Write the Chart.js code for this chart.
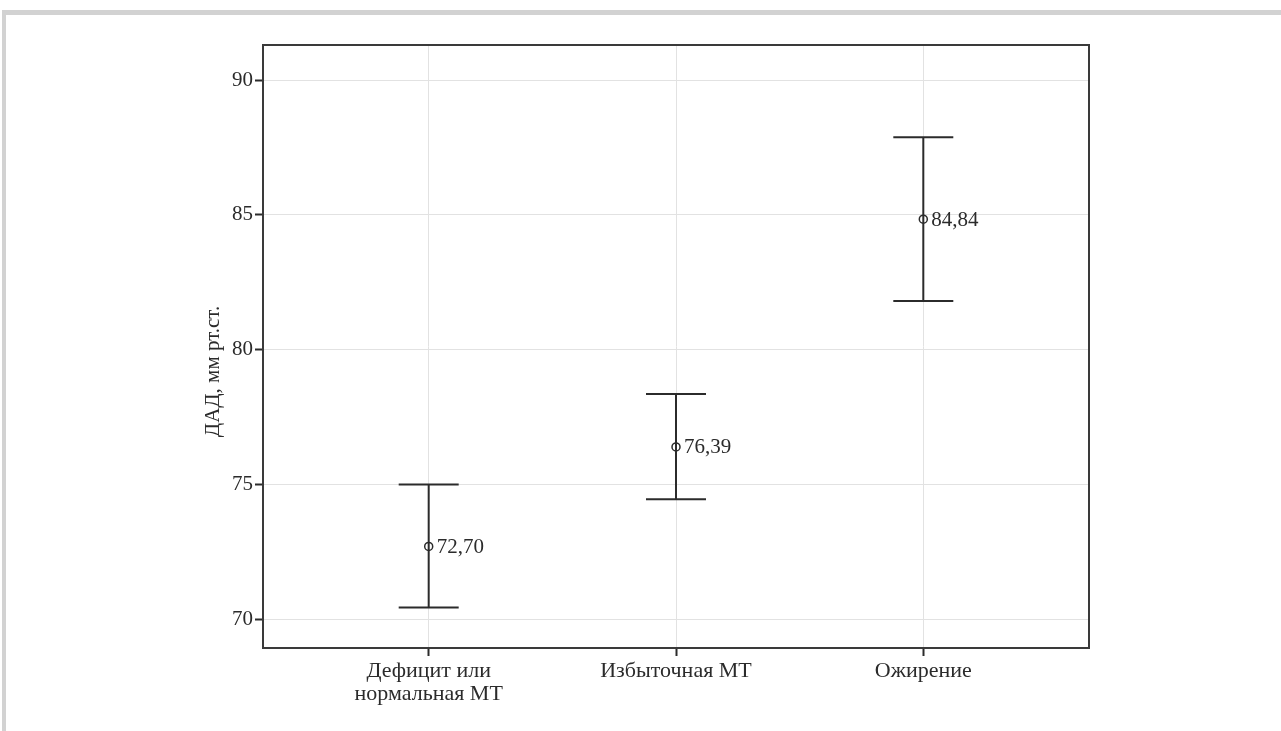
<!DOCTYPE html>
<html>
<head>
<meta charset="utf-8">
<script src="https://cdn.jsdelivr.net/npm/chart.js@4.4.1/dist/chart.umd.min.js"></script>
<style>
  html, body { margin: 0; padding: 0; background: #fff; }
  #frame { position: absolute; left: 2px; top: 10px; right: 0; bottom: 0;
           border-top: 5px solid #d2d2d2; border-left: 4px solid #d2d2d2; }
  #myChart { position: absolute; left: 0; top: 0; }
</style>
</head>
<body>
<div id="frame"></div>
<canvas id="myChart" width="1281" height="731"></canvas>
<script>
const categories = [["Дефицит или", "нормальная МТ"], "Избыточная МТ", "Ожирение"];
const means = [72.70, 76.39, 84.84];
const lower = [70.43, 74.45, 81.80];
const upper = [75.00, 78.35, 87.88];
const meanLabels = ["72,70", "76,39", "84,84"];
const yTicks = [70, 75, 80, 85, 90];
const yTitle = "ДАД, мм рт.ст.";

const ink = "#2b2b2b";
const font = "'Liberation Serif', 'DejaVu Serif', serif";

// vertical stems, broken by nulls between groups
const stems = [];
means.forEach((m, i) => {
  stems.push({x: i, y: lower[i]}, {x: i, y: upper[i]}, {x: i, y: null});
});
const caps = [];
means.forEach((m, i) => {
  caps.push({x: i, y: lower[i]}, {x: i, y: upper[i]});
});

const boxPlugin = {
  id: 'box',
  afterDraw(chart) {
    const a = chart.chartArea, ctx = chart.ctx;
    ctx.save();
    ctx.strokeStyle = "#3a3a3a";
    ctx.lineWidth = 2;
    ctx.strokeRect(a.left, a.top, a.right - a.left, a.bottom - a.top);
    // y axis title, sits a bit below the middle like in the source
    ctx.translate(a.left - 50, (a.top + a.bottom) / 2 + 25);
    ctx.rotate(-Math.PI / 2);
    ctx.fillStyle = ink;
    ctx.font = "21px " + font;
    ctx.textAlign = "center";
    ctx.textBaseline = "middle";
    ctx.fillText(yTitle, 0, 0);
    ctx.restore();
  }
};

const labelPlugin = {
  id: 'meanLabels',
  afterDatasetsDraw(chart) {
    const ctx = chart.ctx;
    const xs = chart.scales.x, ys = chart.scales.y;
    ctx.save();
    ctx.fillStyle = ink;
    ctx.font = "21px " + font;
    ctx.textBaseline = "middle";
    means.forEach((m, i) => {
      ctx.fillText(meanLabels[i], xs.getPixelForValue(i) + 8, ys.getPixelForValue(m) + 1);
    });
    ctx.restore();
  }
};

new Chart(document.getElementById("myChart").getContext("2d"), {
  type: 'scatter',
  plugins: [boxPlugin, labelPlugin],
  data: {
    datasets: [{
      type: 'line',
      data: stems,
      borderColor: ink,
      borderWidth: 2,
      pointRadius: 0,
      spanGaps: false,
    }, {
      data: caps,
      pointStyle: 'line',
      pointRadius: 30,
      borderColor: ink,
      borderWidth: 2,
    }, {
      data: means.map((m, i) => ({x: i, y: m})),
      pointStyle: 'circle',
      pointRadius: 4,
      backgroundColor: "#fff",
      borderColor: ink,
      borderWidth: 1.5,
    }]
  },
  options: {
    responsive: false,
    animation: false,
    layout: { padding: { left: 193, top: 45, right: 192, bottom: 0 } },
    plugins: { legend: { display: false }, tooltip: { enabled: false } },
    scales: {
      x: {
        type: 'linear',
        min: -0.67,
        max: 2.67,
        afterBuildTicks(scale) { scale.ticks = [0, 1, 2].map(v => ({value: v})); },
        afterFit(scale) { scale.height = 83; },
        ticks: {
          callback: (v) => categories[v],
          color: ink,
          font: { family: font, size: 22, lineHeight: 1.05 },
          padding: 4,
          maxRotation: 0,
        },
        grid: { color: "#e2e2e2", lineWidth: 1, tickLength: 8, tickColor: ink, tickWidth: 2 },
        border: { display: false },
      },
      y: {
        min: 68.93,
        max: 91.3,
        afterBuildTicks(scale) { scale.ticks = yTicks.map(v => ({value: v})); },
        afterFit(scale) { scale.width = 70; },
        ticks: {
          color: ink,
          font: { family: font, size: 21 },
          padding: 2,
        },
        grid: { color: "#e2e2e2", lineWidth: 1, tickLength: 8, tickColor: ink, tickWidth: 2 },
        border: { display: false },
      }
    }
  }
});
</script>
</body>
</html>
